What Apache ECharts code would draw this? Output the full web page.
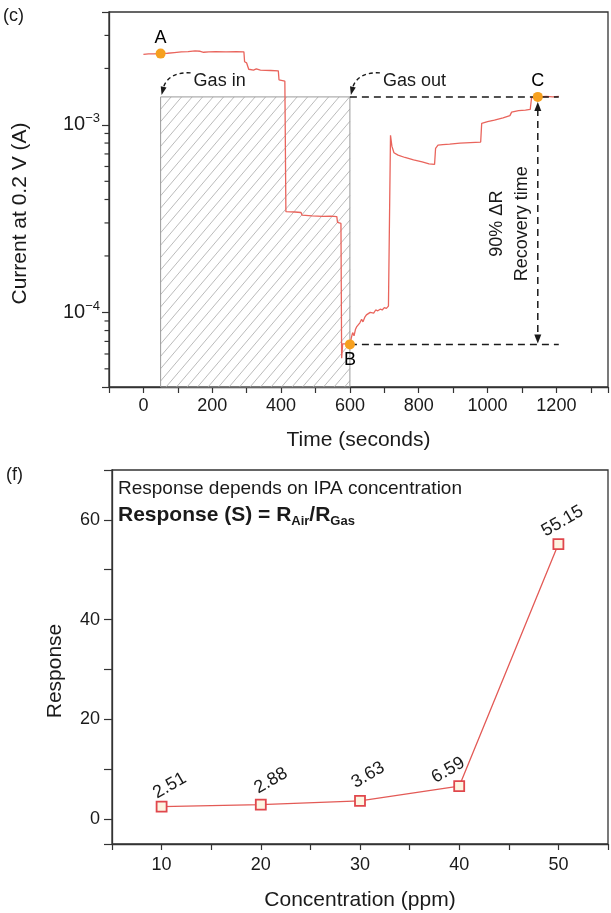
<!DOCTYPE html>
<html>
<head>
<meta charset="utf-8">
<script src="https://cdn.jsdelivr.net/npm/echarts@6/dist/echarts.min.js"></script>
<style>
    html, body { margin: 0; padding: 0; background: #fff; }
    #chart { width: 611px; height: 913px; }
</style>
</head>
<body>
<div id="chart"></div>
<script>
// (c) current transient at 0.2 V
const timeS = [
    0, 15, 30, 50, 70, 90, 110, 130, 150, 165, 175, 190, 210, 240, 270, 292,
    294, 300, 304, 306, 320, 328, 340, 370, 392, 394, 411,
    414, 440, 458, 461, 490, 520, 545, 562, 564, 574,
    576, 579, 592, 600, 604, 608, 612, 616, 620, 624, 629, 634, 638, 643, 648, 653,
    659, 664, 669, 675, 681, 688, 694, 700, 706, 712, 716,
    718, 722, 728, 740, 760, 785, 810, 830, 846, 849, 856, 870, 890, 920, 950, 980,
    983, 1000, 1020, 1045, 1065, 1070, 1090, 1110, 1124, 1128, 1146, 1170, 1190, 1207
]
const currentA = [
    2.38e-3, 2.39e-3, 2.39e-3, 2.40e-3, 2.41e-3, 2.43e-3, 2.45e-3, 2.46e-3, 2.48e-3, 2.47e-3, 2.44e-3, 2.45e-3, 2.46e-3, 2.45e-3, 2.46e-3, 2.45e-3,
    2.17e-3, 2.14e-3, 2.13e-3, 1.98e-3, 1.96e-3, 1.99e-3, 1.96e-3, 1.95e-3, 1.94e-3, 1.74e-3, 1.71e-3,
    3.45e-4, 3.43e-4, 3.41e-4, 3.30e-4, 3.27e-4, 3.25e-4, 3.26e-4, 3.24e-4, 3.02e-4, 2.98e-4,
    5.7e-5, 6.8e-5, 6.8e-5, 6.75e-5, 7.3e-5, 7.8e-5, 7.5e-5, 8.1e-5, 8.4e-5, 8.2e-5, 8.8e-5, 9.2e-5, 8.9e-5, 9.4e-5, 9.7e-5, 9.5e-5,
    1.00e-4, 1.02e-4, 9.9e-5, 1.03e-4, 1.02e-4, 1.04e-4, 1.03e-4, 1.06e-4, 1.05e-4, 1.08e-4, 1.09e-4,
    8.8e-4, 7.7e-4, 7.1e-4, 6.9e-4, 6.7e-4, 6.5e-4, 6.35e-4, 6.2e-4, 6.15e-4, 7.5e-4, 7.8e-4, 7.85e-4, 7.9e-4, 8.0e-4, 8.05e-4, 8.1e-4,
    1.02e-3, 1.04e-3, 1.06e-3, 1.09e-3, 1.12e-3, 1.17e-3, 1.19e-3, 1.20e-3, 1.21e-3, 1.40e-3, 1.41e-3, 1.42e-3, 1.41e-3, 1.42e-3
]

// marked points A, B, C
const pointNames = ['A', 'B', 'C']
const pointTimeS = [50, 600, 1146]
const pointCurrentA = [2.40e-3, 6.75e-5, 1.41e-3]

const gasInS = 50
const gasOutS = 600
const guideEndS = 1207

// log axis range and its minor ticks
const currentMin = 4e-5
const currentMax = 4e-3
const currentMinorTicks = [5e-5, 6e-5, 7e-5, 8e-5, 9e-5, 2e-4, 3e-4, 4e-4, 5e-4, 6e-4, 7e-4, 8e-4, 9e-4, 2e-3, 3e-3]

// (f) response vs concentration
const concPpm = [10, 20, 30, 40, 50]
const response = [2.51, 2.88, 3.63, 6.59, 55.15]
// where each value label sits, relative to its marker box
const responseLabelPos = [[14, -15], [16, -18], [14, -20], [-5, -10], [10, -17]]

const FONT = '"Liberation Sans", Arial, sans-serif'
const INK = '#1a1a1a'
const AXIS = '#333'

const chart = echarts.init(document.getElementById('chart'))

const axisLine = { show: true, onZero: false, lineStyle: { color: AXIS, width: 1.3 } }
const tickStyle = { color: AXIS, width: 1.2 }

function hatchBox(params, api){
    const tl = api.coord([api.value(0), api.value(2)])
    const br = api.coord([api.value(1), api.value(3)])
    const x0 = tl[0], y0 = tl[1], x1 = br[0], y1 = br[1]
    const h = y1 - y0, r = 0.85, gap = 10.5
    const children = []
    // "/" hatching clipped to the box
    for( let xs = x0 - h*r; xs < x1; xs += gap ){
        const sMin = Math.max(0, (x0 - xs)/r)
        const sMax = Math.min(h, (x1 - xs)/r)
        if( sMax <= sMin ) continue
        children.push({type: 'line', shape: {x1: xs + sMin*r, y1: y1 - sMin, x2: xs + sMax*r, y2: y1 - sMax},
            style: {stroke: '#b3b3b3', lineWidth: 0.9}})
    }
    children.push({type: 'rect', shape: {x: x0, y: y0, width: x1 - x0, height: h},
        style: {fill: null, stroke: '#9a9a9a', lineWidth: 1}})
    return {type: 'group', children}
}

function curvedArrow(x0, y0, label){
    // small dashed hook pointing down-left at (x0, y0), text to the right
    return [
        {type: 'bezierCurve', shape: {x1: x0 + 30, y1: y0 - 24, cpx1: x0 + 17, cpy1: y0 - 25, cpx2: x0 + 6, cpy2: y0 - 20, x2: x0 + 3, y2: y0 - 10},
            style: {fill: null, stroke: INK, lineWidth: 1.4, lineDash: [4, 3]}},
        {type: 'polygon', shape: {points: [[x0 + 1, y0 - 2], [x0 + 0.1, y0 - 10.7], [x0 + 5.9, y0 - 9.3]]},
            style: {fill: INK}},
        {type: 'text', x: x0 + 33, y: y0 - 16,
            style: {text: label, fontSize: 18, fontFamily: FONT, fill: INK, align: 'left', verticalAlign: 'middle'}}
    ]
}

function guides(params, api){
    const dash = {stroke: INK, lineWidth: 1.5, lineDash: [7, 5], fill: null}
    const inTop = api.coord([gasInS, pointCurrentA[2]])
    const outTop = api.coord([gasOutS, pointCurrentA[2]])
    const topEnd = api.coord([guideEndS, pointCurrentA[2]])
    const b = api.coord([pointTimeS[1], pointCurrentA[1]])
    const bEnd = api.coord([guideEndS, pointCurrentA[1]])
    const c = api.coord([pointTimeS[2], pointCurrentA[2]])
    const cb = api.coord([pointTimeS[2], pointCurrentA[1]])
    const midY = (c[1] + cb[1])/2 + 3

    const children = [
        {type: 'line', shape: {x1: outTop[0], y1: outTop[1], x2: topEnd[0], y2: topEnd[1]}, style: dash},
        {type: 'line', shape: {x1: b[0], y1: b[1], x2: bEnd[0], y2: bEnd[1]}, style: dash},
        {type: 'line', shape: {x1: c[0], y1: c[1] + 12, x2: cb[0], y2: cb[1] - 9}, style: dash},
        {type: 'polygon', shape: {points: [[c[0], c[1] + 5], [c[0] - 3.5, c[1] + 14], [c[0] + 3.5, c[1] + 14]]}, style: {fill: INK}},
        {type: 'polygon', shape: {points: [[cb[0], cb[1] - 1], [cb[0] - 3.5, cb[1] - 10], [cb[0] + 3.5, cb[1] - 10]]}, style: {fill: INK}},
        {type: 'text', x: c[0] - 41, y: midY, rotation: Math.PI/2,
            style: {text: '90% ΔR', fontSize: 18, fontFamily: FONT, fill: INK, align: 'center', verticalAlign: 'middle'}},
        {type: 'text', x: c[0] - 16, y: midY, rotation: Math.PI/2,
            style: {text: 'Recovery time', fontSize: 18, fontFamily: FONT, fill: INK, align: 'center', verticalAlign: 'middle'}}
    ]
    return {type: 'group', children: children
        .concat(curvedArrow(inTop[0], inTop[1], 'Gas in'))
        .concat(curvedArrow(outTop[0], outTop[1], 'Gas out'))}
}

chart.setOption({
    animation: false,
    textStyle: { fontFamily: FONT, color: INK },
    title: [
        {text: '(c)', left: 3, top: 7, padding: 0, textStyle: {fontSize: 18, fontWeight: 'normal', color: INK, fontFamily: FONT}},
        {text: '(f)', left: 6, top: 466, padding: 0, textStyle: {fontSize: 18, fontWeight: 'normal', color: INK, fontFamily: FONT}},
        {text: 'Response depends on IPA concentration', left: 118, top: 479, padding: 0,
            textStyle: {fontSize: 19, fontWeight: 'normal', color: INK, fontFamily: FONT}},
        {text: 'Response (S) = R{sub|Air}/R{sub|Gas}', left: 118, top: 503, padding: 0,
            textStyle: {fontSize: 21, fontWeight: 'bold', color: INK, fontFamily: FONT,
                rich: {sub: {fontSize: 13, fontWeight: 'bold', fontFamily: FONT, color: INK, padding: [12, 0, 0, 0]}}}}
    ],
    grid: [
        {left: 109, top: 12, width: 501, height: 375, show: true, borderColor: AXIS, borderWidth: 1.3},
        {left: 112, top: 470, width: 503, height: 374, show: true, borderColor: AXIS, borderWidth: 1.3}
    ],
    xAxis: [
        {gridIndex: 0, type: 'value', min: -100, max: 1350, interval: 100,
            axisLine, axisTick: {length: 6, lineStyle: tickStyle}, splitLine: {show: false},
            axisLabel: {fontSize: 18, color: INK, fontFamily: FONT, margin: 10,
                formatter: v => (v >= 0 && v <= 1200 && v % 200 === 0) ? String(v) : ''},
            name: 'Time (seconds)', nameLocation: 'middle', nameGap: 43,
            nameTextStyle: {fontSize: 21, color: INK, fontFamily: FONT}},
        {gridIndex: 1, type: 'value', min: 5, max: 55, interval: 5,
            axisLine, axisTick: {length: 6, lineStyle: tickStyle}, splitLine: {show: false},
            axisLabel: {fontSize: 18, color: INK, fontFamily: FONT, margin: 12,
                formatter: v => (v >= 10 && v <= 50 && v % 10 === 0) ? String(v) : ''},
            name: 'Concentration (ppm)', nameLocation: 'middle', nameGap: 46,
            nameTextStyle: {fontSize: 21, color: INK, fontFamily: FONT}}
    ],
    yAxis: [
        {gridIndex: 0, type: 'log', logBase: 10, min: currentMin, max: currentMax,
            axisLine, axisTick: {length: 7, lineStyle: tickStyle}, splitLine: {show: false},
            axisLabel: {fontSize: 20, color: INK, fontFamily: FONT, margin: 9,
                formatter: v => {
                    const e = Math.round(Math.log10(v))
                    if( Math.abs(Math.log10(v) - e) > 1e-6 ) return ''
                    return '10{sup|−' + Math.abs(e) + '}'
                },
                rich: {sup: {fontSize: 13, color: INK, fontFamily: FONT, padding: [0, 0, 12, 0]}}},
            name: 'Current at 0.2 V (A)', nameLocation: 'middle', nameGap: 78,
            nameTextStyle: {fontSize: 21, color: INK, fontFamily: FONT, padding: [0, 28, 0, 0]}},
        {gridIndex: 1, type: 'value', min: -5, max: 70, splitNumber: 7,
            axisLine, axisTick: {length: 8, lineStyle: tickStyle}, splitLine: {show: false},
            axisLabel: {fontSize: 18, color: INK, fontFamily: FONT, margin: 12,
                formatter: v => (v >= 0 && v <= 60 && v % 20 === 0) ? String(v) : ''},
            name: 'Response', nameLocation: 'middle', nameGap: 46,
            nameTextStyle: {fontSize: 21, color: INK, fontFamily: FONT, padding: [0, 28, 0, 0]}}
    ],
    series: [
        {type: 'custom', name: 'gas exposure', xAxisIndex: 0, yAxisIndex: 0, silent: true, z: 1,
            encode: {x: [0, 1], y: [2, 3]},
            data: [[gasInS, gasOutS, pointCurrentA[2], currentMin]],
            renderItem: hatchBox},
        {type: 'custom', name: 'minor ticks', xAxisIndex: 0, yAxisIndex: 0, silent: true, clip: false,
            data: currentMinorTicks.map(v => [-100, v]),
            renderItem: (params, api) => {
                const p = api.coord([api.value(0), api.value(1)])
                return {type: 'line', shape: {x1: p[0] - 4.5, y1: p[1], x2: p[0], y2: p[1]},
                    style: {stroke: AXIS, lineWidth: 1.2}}
            }},
        {type: 'line', name: 'current', xAxisIndex: 0, yAxisIndex: 0, z: 3,
            data: timeS.map((t, i) => [t, currentA[i]]),
            showSymbol: false, symbol: 'none',
            lineStyle: {color: '#e9645c', width: 1.3}},
        {type: 'custom', name: 'guides', xAxisIndex: 0, yAxisIndex: 0, silent: true, clip: false, z: 4,
            data: [[pointTimeS[2], pointCurrentA[2]]],
            renderItem: guides},
        {type: 'scatter', name: 'points', xAxisIndex: 0, yAxisIndex: 0, z: 5,
            symbolSize: 10, itemStyle: {color: '#f6a01f', opacity: 1},
            data: pointNames.map((n, i) => ({name: n, value: [pointTimeS[i], pointCurrentA[i]],
                label: {position: n === 'B' ? 'bottom' : 'top'}})),
            label: {show: true, formatter: '{b}', fontSize: 18, color: '#000', opacity: 1,
                textBorderWidth: 0, fontFamily: FONT, distance: 2}},
        {type: 'line', name: 'response', xAxisIndex: 1, yAxisIndex: 1, z: 3,
            data: concPpm.map((c, i) => ({value: [c, response[i]], label: {position: responseLabelPos[i]}})),
            symbol: 'rect', symbolSize: 10,
            lineStyle: {color: '#e35a56', width: 1.3},
            itemStyle: {color: '#fdf5e2', borderColor: '#e0474c', borderWidth: 1.8},
            label: {show: true, formatter: p => p.value[1].toFixed(2), rotate: 30,
                align: 'center', verticalAlign: 'middle',
                fontSize: 18, color: INK, fontFamily: FONT}}
    ]
})
</script>
</body>
</html>
